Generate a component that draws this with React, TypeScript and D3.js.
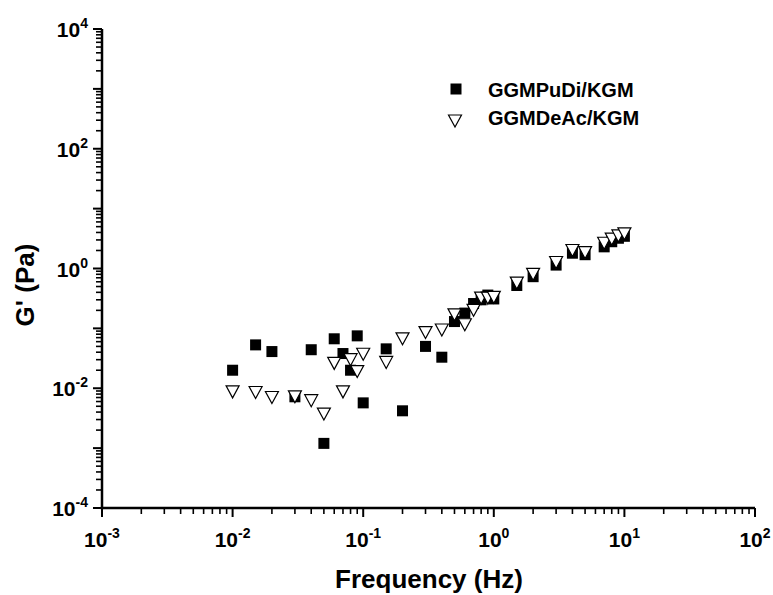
import React from "react";
import * as d3 from "d3";

const freq = [0.01, 0.015, 0.02, 0.03, 0.04, 0.05, 0.06, 0.07, 0.08, 0.09, 0.1, 0.15, 0.2, 0.3, 0.4, 0.5, 0.6, 0.7, 0.8, 0.9, 1, 1.5, 2, 3, 4, 5, 7, 8, 9, 10];
const puDi = [0.020, 0.053, 0.041, 0.0072, 0.044, 0.0012, 0.067, 0.038, 0.020, 0.075, 0.0057, 0.0455, 0.0042, 0.050, 0.033, 0.13, 0.18, 0.26, 0.30, 0.36, 0.31, 0.52, 0.73, 1.14, 1.8, 1.7, 2.3, 2.8, 3.2, 3.45];
const deAc = [0.0087, 0.0085, 0.0070, 0.0072, 0.0062, 0.0037, 0.026, 0.0087, 0.030, 0.019, 0.037, 0.027, 0.067, 0.085, 0.094, 0.168, 0.115, 0.20, 0.32, 0.32, 0.33, 0.57, 0.80, 1.26, 2.0, 1.84, 2.64, 3.1, 3.5, 3.8];
const seriesNames = ["GGMPuDi/KGM", "GGMDeAc/KGM"];
const xTickExps = [-3, -2, -1, 0, 1, 2];
const yTickExps = [-4, -2, 0, 2, 4];
const xTitle = "Frequency (Hz)";
const yTitle = "G' (Pa)";

const FONT = "'Liberation Sans', Arial, Helvetica, sans-serif";

export default function App() {
  const W = 773, H = 595;
  const x = d3.scaleLog().domain([1e-3, 1e2]).range([102, 755]);
  const y = d3.scaleLog().domain([1e-4, 1e4]).range([508, 29]);
  const x0 = x.range()[0];
  const y0 = y.range()[0];

  const minorTicks = (lo: number, hi: number) => {
    const out: { v: number; major: boolean }[] = [];
    for (let e = lo; e <= hi; e++) {
      for (let m = 1; m <= 9; m++) {
        if (e === hi && m > 1) break;
        out.push({ v: m * Math.pow(10, e), major: m === 1 });
      }
    }
    return out;
  };
  const xt = minorTicks(-3, 2);
  const yt = minorTicks(-4, 4);

  const sq = 11;
  const triW = 13, triH = 12;
  const triPath = (cx: number, cy: number) => {
    const p = d3.path();
    p.moveTo(cx - triW / 2, cy - triH / 2);
    p.lineTo(cx + triW / 2, cy - triH / 2);
    p.lineTo(cx, cy + triH / 2);
    p.closePath();
    return p.toString();
  };

  return (
    <svg width={W} height={H} style={{ position: "absolute", left: 0, top: 0, background: "#fff" }} fontFamily={FONT} fontWeight="bold">
      {/* axes */}
      <line x1={x0} y1={y.range()[1]} x2={x0} y2={y0 + 1.25} stroke="#000" strokeWidth={2.5} />
      <line x1={x0 - 1.25} y1={y0} x2={x.range()[1]} y2={y0} stroke="#000" strokeWidth={2.5} />
      {xt.map((t, i) => (
        <line key={"xt" + i} x1={x(t.v)} x2={x(t.v)} y1={y0} y2={y0 + (t.major ? 9 : 6)} stroke="#000" strokeWidth={t.major ? 2 : 1.6} />
      ))}
      {yt.map((t, i) => (
        <line key={"yt" + i} y1={y(t.v)} y2={y(t.v)} x1={x0} x2={x0 - (t.major ? 9 : 6)} stroke="#000" strokeWidth={t.major ? 2 : 1.6} />
      ))}
      {xTickExps.map((e) => (
        <text key={"xl" + e} x={x(Math.pow(10, e))} y={547} textAnchor="middle" fontSize={21}>
          10<tspan fontSize={14} dy={-9}>{e}</tspan>
        </text>
      ))}
      {yTickExps.map((e) => (
        <text key={"yl" + e} x={88} y={y(Math.pow(10, e)) + 8} textAnchor="end" fontSize={21}>
          10<tspan fontSize={14} dy={-9}>{e}</tspan>
        </text>
      ))}
      <text x={429} y={588} textAnchor="middle" fontSize={26}>{xTitle}</text>
      <text transform={`translate(34,${285}) rotate(-90)`} textAnchor="middle" fontSize={26}>{yTitle}</text>

      {/* series */}
      {freq.map((f, i) => (
        <rect key={"s" + i} x={x(f) - sq / 2} y={y(puDi[i]) - sq / 2} width={sq} height={sq} fill="#000" />
      ))}
      {freq.map((f, i) => (
        <path key={"t" + i} d={triPath(x(f), y(deAc[i]))} fill="#fff" stroke="#000" strokeWidth={1.2} />
      ))}

      {/* legend */}
      <rect x={456 - sq / 2} y={89 - sq / 2} width={sq} height={sq} fill="#000" />
      <text x={488} y={97} fontSize={20}>{seriesNames[0]}</text>
      <path d={triPath(455, 121)} fill="#fff" stroke="#000" strokeWidth={1.2} />
      <text x={488} y={125} fontSize={20}>{seriesNames[1]}</text>
    </svg>
  );
}
